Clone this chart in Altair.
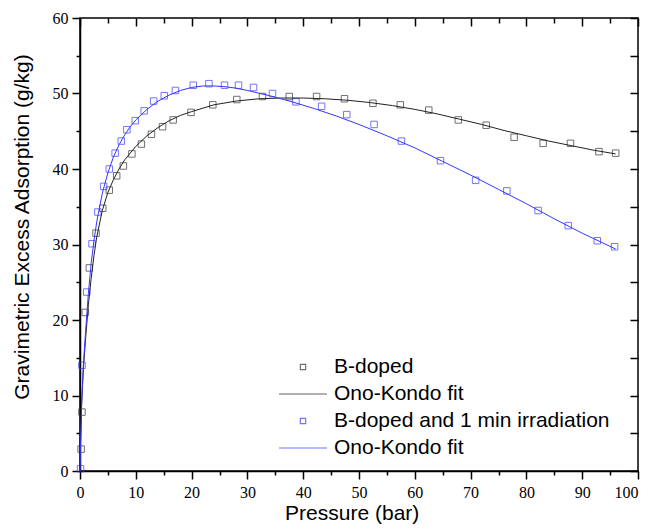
import altair as alt
import pandas as pd

# ---- data ----
b_x = [0.2, 0.35, 0.95, 1.67, 2.87, 4.07, 5.25, 6.57, 7.77, 9.3, 11.0, 12.8, 14.8, 16.7, 19.9,
       23.8, 28.1, 32.7, 37.5, 42.4, 47.4, 52.5, 57.4, 62.5, 67.8, 72.8, 77.8, 83.0, 87.9, 93.0, 96.0]
b_y = [2.9, 7.8, 21.0, 26.9, 31.5, 34.8, 37.2, 39.1, 40.4, 42.0, 43.3, 44.6, 45.6, 46.5, 47.5,
       48.5, 49.2, 49.6, 49.6, 49.6, 49.3, 48.7, 48.5, 47.8, 46.5, 45.8, 44.2, 43.4, 43.4, 42.3, 42.1]

i_x = [0.1, 0.35, 1.2, 2.15, 3.2, 4.24, 5.25, 6.3, 7.4, 8.4, 9.9, 11.5, 13.2, 15.1, 17.1, 20.3,
       23.1, 25.9, 28.4, 31.1, 34.5, 38.7, 43.3, 47.8, 52.7, 57.6, 64.6, 70.9, 76.5, 82.1, 87.5, 92.7, 95.8]
i_y = [0.3, 14.0, 23.7, 30.1, 34.3, 37.7, 40.0, 42.1, 43.7, 45.2, 46.4, 47.7, 49.0, 49.7, 50.4, 51.1,
       51.3, 51.1, 51.1, 50.8, 50.0, 48.9, 48.3, 47.2, 45.9, 43.7, 41.1, 38.5, 37.1, 34.5, 32.5, 30.5, 29.7]

bfit_x = [0, 0.1, 0.3, 0.6, 1.0, 1.5, 2.0, 2.5, 3, 4, 5, 6, 7, 8, 10, 12, 14, 16, 18, 20, 24, 28,
          32, 36, 40, 44, 48, 52, 56, 60, 64, 68, 72, 76, 80, 84, 88, 92, 96]
bfit_y = [0, 4, 9, 13.5, 17.5, 22, 25.5, 28.5, 31, 34.5, 36.9, 38.6, 40.0, 41.2, 43.0, 44.4, 45.5,
          46.4, 47.1, 47.6, 48.5, 49.0, 49.3, 49.4, 49.4, 49.3, 49.1, 48.8, 48.4, 47.9, 47.3, 46.6,
          45.9, 45.1, 44.4, 43.7, 43.1, 42.5, 42.0]

ifit_x = [0, 0.1, 0.3, 0.6, 1.0, 1.5, 2.0, 2.5, 3, 4, 5, 6, 7, 8, 9, 10, 12, 14, 16, 18, 20, 22, 24,
          26, 28, 30, 34, 38, 42, 46, 50, 55, 60, 65, 70, 75, 80, 85, 90, 96]
ifit_y = [0, 3.5, 9, 14, 18.5, 23.5, 27.5, 30.5, 33, 36.8, 39.5, 41.6, 43.2, 44.5, 45.6, 46.5, 47.9,
          49.0, 49.8, 50.4, 50.8, 51.0, 51.0, 50.9, 50.7, 50.4, 49.7, 48.9, 48.0, 47.0, 45.9, 44.4,
          42.8, 41.0, 39.2, 37.3, 35.4, 33.4, 31.5, 29.4]

S_B = "B-doped"
S_BF = "Ono-Kondo fit (B-doped)"
S_I = "B-doped and 1 min irradiation"
S_IF = "Ono-Kondo fit (irradiated)"
series_order = [S_B, S_BF, S_I, S_IF]
series_colors = ["#333333", "#222222", "#3b3bff", "#3535ff"]
SQ = "M-0.265,-0.265H0.265V0.265H-0.265Z"
LN = "M-2.4,0H2.4"
series_shapes = [SQ, LN, SQ, LN]

x_major = list(range(0, 101, 10))
x_minor = list(range(5, 100, 10))
y_major = list(range(0, 61, 10))
y_minor = list(range(5, 60, 10))

pts = pd.concat([
    pd.DataFrame({"p": b_x, "a": b_y, "s": S_B}),
    pd.DataFrame({"p": i_x, "a": i_y, "s": S_I}),
])
fits = pd.concat([
    pd.DataFrame({"p": bfit_x, "a": bfit_y, "s": S_BF}),
    pd.DataFrame({"p": ifit_x, "a": ifit_y, "s": S_IF}),
])

W, H = 558, 453
xs = alt.Scale(domain=[0, 100], nice=False, zero=False)
ys = alt.Scale(domain=[0, 60], nice=False, zero=False)

SERIF = "Liberation Serif"
SANS = "Liberation Sans"
tick_common = dict(tickColor="black", tickWidth=1.5, grid=False)

ax_bottom = alt.Axis(orient="bottom", values=x_major, tickSize=8, domainColor="black", domainWidth=1.5,
                     labelFont=SERIF, labelFontSize=16, labelColor="black", labelPadding=5,
                     labelFlush=False, labelOverlap=False,
                     labelAlign={"condition": {"test": "datum.value == 100", "value": "right"},
                                 "value": "center"},
                     title="Pressure (bar)", titleFont=SANS, titleFontSize=21,
                     titleFontWeight="normal", titleColor="black", titleX=271.7, titleY=48,
                     titleBaseline="alphabetic", titleAlign="center", **tick_common)
ax_left = alt.Axis(orient="left", values=y_major, tickSize=8, domainColor="black", domainWidth=1.5,
                   labelFont=SERIF, labelFontSize=16, labelColor="black", labelPadding=4,
                   labelFlush=False, labelOverlap=False,
                   title="Gravimetric Excess Adsorption (g/kg)", titleFont=SANS,
                   titleFontSize=21, titleFontWeight="normal", titleColor="black",
                   titleX=-51.5, titleY=208.5, titleAngle=270, titleBaseline="alphabetic",
                   titleAlign="center", **tick_common)
ax_top_major = alt.Axis(orient="top", values=x_major, tickSize=8, offset=-8, domain=False,
                        labels=False, title=None, **tick_common)
ax_right_major = alt.Axis(orient="right", values=y_major, tickSize=8, offset=-8, domain=False,
                          labels=False, title=None, **tick_common)
ax_bottom_minor = alt.Axis(orient="bottom", values=x_minor, tickSize=4, domain=False,
                           labels=False, title=None, **tick_common)
ax_left_minor = alt.Axis(orient="left", values=y_minor, tickSize=4, domain=False,
                         labels=False, title=None, **tick_common)
ax_top_minor = alt.Axis(orient="top", values=x_minor, tickSize=5, offset=-5, domain=False,
                        labels=False, title=None, **tick_common)
ax_right_minor = alt.Axis(orient="right", values=y_minor, tickSize=8, offset=-8, domain=False,
                          labels=False, title=None, **tick_common)

legend = alt.Legend(orient="none", legendX=212, legendY=338, title=None, padding=0,
                    symbolSize=400, symbolStrokeWidth=1.2, labelFont=SANS,
                    labelFontSize=21, labelColor="black", labelOffset=20, rowPadding=6,
                    labelLimit=500,
                    labelExpr="indexof(datum.label, 'Ono-Kondo') == 0 ? 'Ono-Kondo fit' : datum.label")

color = alt.Color("s:N", scale=alt.Scale(domain=series_order, range=series_colors), legend=legend)
shape = alt.Shape("s:N", scale=alt.Scale(domain=series_order, range=series_shapes), legend=legend)

lines = alt.Chart(fits).mark_line(strokeWidth=1).encode(
    x=alt.X("p:Q", scale=xs, axis=ax_top_major),
    y=alt.Y("a:Q", scale=ys, axis=ax_right_major),
    color=color,
)
points = alt.Chart(pts).mark_point(filled=False, size=600, strokeWidth=1).encode(
    x=alt.X("p:Q", scale=xs, axis=ax_bottom),
    y=alt.Y("a:Q", scale=ys, axis=ax_left),
    color=color,
    shape=shape,
)
minor1 = alt.Chart(fits).mark_point(opacity=0).encode(
    x=alt.X("p:Q", scale=xs, axis=ax_bottom_minor),
    y=alt.Y("a:Q", scale=ys, axis=ax_left_minor),
)
minor2 = alt.Chart(fits).mark_point(opacity=0).encode(
    x=alt.X("p:Q", scale=xs, axis=ax_top_minor),
    y=alt.Y("a:Q", scale=ys, axis=ax_right_minor),
)

chart = alt.layer(points, lines, minor1, minor2).resolve_axis(
    x="independent", y="independent"
).properties(
    width=W, height=H,
    autosize=alt.AutoSizeParams(type="none"),
    padding={"left": 72, "top": 10, "right": 4, "bottom": 53},
    background="white",
).configure_view(stroke="black", strokeWidth=1.5)

chart.save("out.html", embed_options={"renderer": "svg", "actions": False})
